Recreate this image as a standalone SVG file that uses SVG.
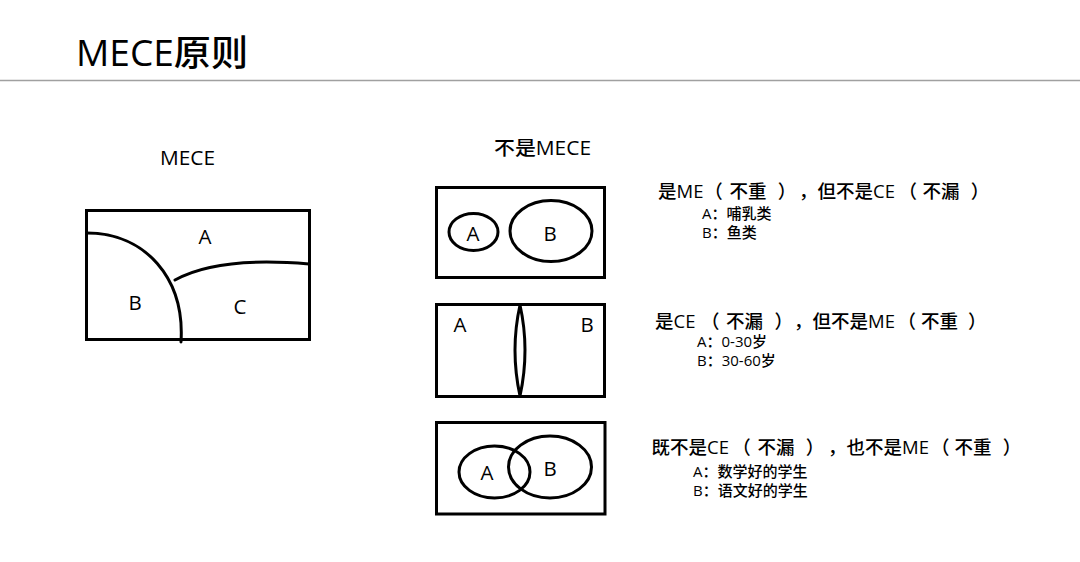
<svg xmlns="http://www.w3.org/2000/svg" width="1080" height="562" viewBox="0 0 1080 562">
<style>
  text { font-family: "Open Sans", "Noto Sans CJK SC", sans-serif; fill: #000; font-weight: 500; }
  .box { fill: none; stroke: #000; stroke-width: 3; }
  .ln { fill: none; stroke: #000; stroke-width: 3; stroke-linecap: round; }
  .lbl { font-size: 20.5px; text-anchor: middle; }
  .head { font-size: 18.5px; }
  .sub { font-size: 15px; }
</style>
<rect width="1080" height="562" fill="#fff"/>
<g id="title">
  <text x="76" y="66" font-size="36" textLength="172" lengthAdjust="spacingAndGlyphs">MECE原则</text>
  <line x1="0" y1="80.5" x2="1080" y2="80.5" stroke="#a0a0a0" stroke-width="1.5"/>
</g>
<g id="mece">
  <text x="160" y="165" font-size="19.5" textLength="55" lengthAdjust="spacingAndGlyphs">MECE</text>
  <rect class="box" x="86.5" y="210.5" width="223" height="129"/>
  <path class="ln" d="M87,233 C145,233 185,278 181,342"/>
  <path class="ln" d="M175,280 C200,266 240,258 309,264"/>
  <text class="lbl" x="205" y="244">A</text>
  <text class="lbl" x="135" y="310">B</text>
  <text class="lbl" x="240" y="314">C</text>
</g>
<g id="not-mece-title">
  <text x="494" y="155" font-size="19.5" textLength="97" lengthAdjust="spacingAndGlyphs">不是MECE</text>
</g>
<g id="case1">
  <rect class="box" x="436.5" y="187.5" width="168" height="90"/>
  <ellipse class="ln" cx="473.5" cy="232" rx="24.5" ry="18.5"/>
  <ellipse class="ln" cx="551" cy="231" rx="41" ry="30.5"/>
  <text class="lbl" x="473" y="240.5">A</text>
  <text class="lbl" x="550" y="240.5">B</text>
  <text class="head" y="198"><tspan x="658">是ME</tspan><tspan x="704.3">（</tspan><tspan x="729.5">不重</tspan><tspan x="777.8">）</tspan><tspan x="799">，</tspan><tspan x="817.5">但不是CE</tspan><tspan x="898.5">（</tspan><tspan x="922.5">不漏</tspan><tspan x="970.8">）</tspan></text>
  <text class="sub" x="702" y="219">A：哺乳类</text>
  <text class="sub" x="702" y="238">B：鱼类</text>
</g>
<g id="case2">
  <rect class="box" x="436.5" y="304.5" width="168" height="92"/>
  <path class="ln" d="M520,305 Q510,350 520,396 Q530,350 520,305 Z"/>
  <text class="lbl" x="460" y="332">A</text>
  <text class="lbl" x="587" y="332">B</text>
  <text class="head" y="328"><tspan x="655">是CE</tspan><tspan x="701">（</tspan><tspan x="726">不漏</tspan><tspan x="774.5">）</tspan><tspan x="794">，</tspan><tspan x="812.5">但不是ME</tspan><tspan x="897.5">（</tspan><tspan x="921">不重</tspan><tspan x="968">）</tspan></text>
  <text class="sub" x="697" y="347">A：0-30岁</text>
  <text class="sub" x="697" y="365.5">B：30-60岁</text>
</g>
<g id="case3">
  <rect class="box" x="436.5" y="422.5" width="168.5" height="91.5"/>
  <ellipse class="ln" cx="494.5" cy="472" rx="35.5" ry="26"/>
  <ellipse class="ln" cx="550" cy="467" rx="41.5" ry="31"/>
  <text class="lbl" x="487" y="480">A</text>
  <text class="lbl" x="550" y="475.5">B</text>
  <text class="head" y="453.5"><tspan x="651.5">既不是CE</tspan><tspan x="732.3">（</tspan><tspan x="757.5">不漏</tspan><tspan x="805.8">）</tspan><tspan x="828">，</tspan><tspan x="846.5">也不是ME</tspan><tspan x="931">（</tspan><tspan x="954.5">不重</tspan><tspan x="1002.8">）</tspan></text>
  <text class="sub" x="693" y="477">A：数学好的学生</text>
  <text class="sub" x="693" y="496">B：语文好的学生</text>
</g>
</svg>
